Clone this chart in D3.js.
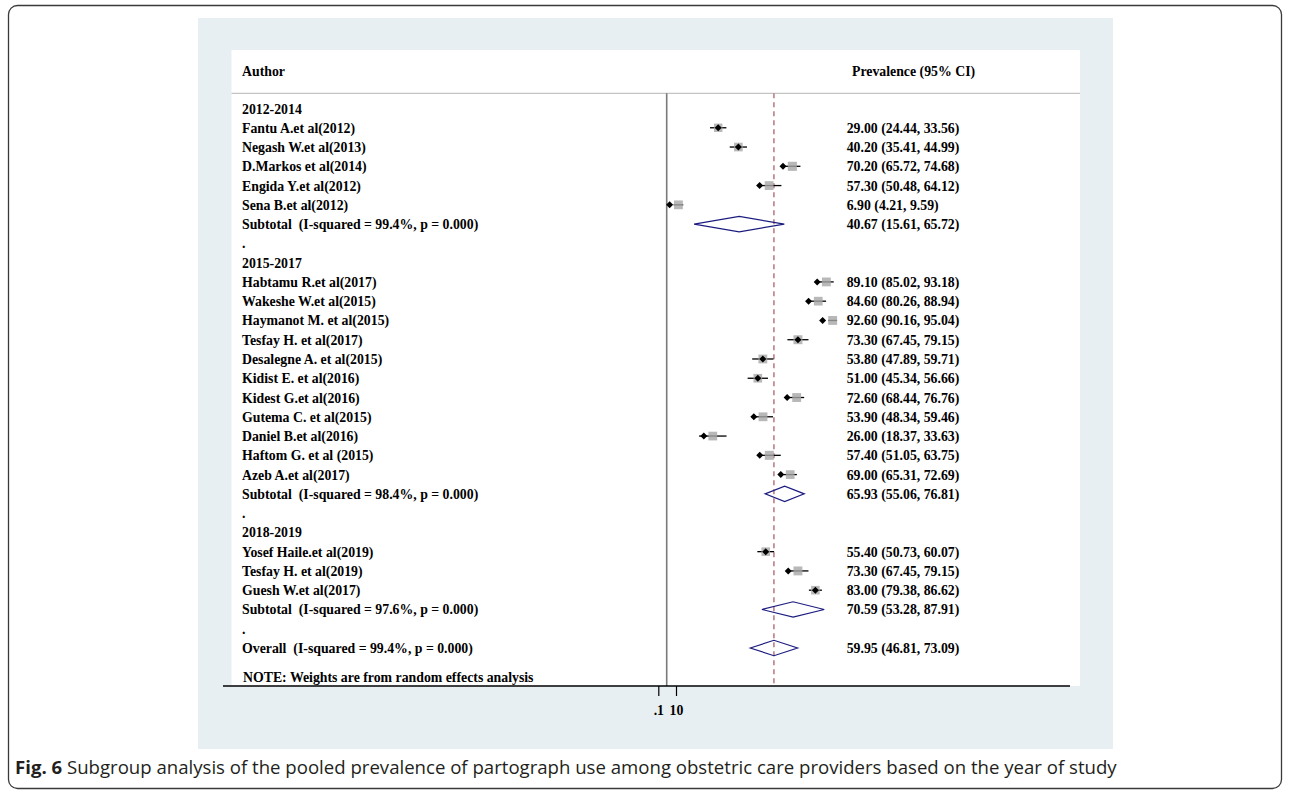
<!DOCTYPE html>
<html><head><meta charset="utf-8">
<script src="https://cdn.jsdelivr.net/npm/d3@7"></script>
<style>
html,body{margin:0;padding:0;background:#fff;}
svg text{white-space:pre;}
</style></head>
<body>
<svg id="chart" width="1290" height="793"></svg>
<script>
// ---------------- data ----------------
const groupNames = ["2012-2014", "2015-2017", "2018-2019"];
const studyAuthors = [
  "Fantu A.et al(2012)", "Negash W.et al(2013)", "D.Markos et al(2014)", "Engida Y.et al(2012)", "Sena B.et al(2012)",
  "Habtamu R.et al(2017)", "Wakeshe W.et al(2015)", "Haymanot M. et al(2015)", "Tesfay H. et al(2017)",
  "Desalegne A. et al(2015)", "Kidist E. et al(2016)", "Kidest G.et al(2016)", "Gutema C. et al(2015)",
  "Daniel B.et al(2016)", "Haftom G. et al (2015)", "Azeb A.et al(2017)",
  "Yosef Haile.et al(2019)", "Tesfay H. et al(2019)", "Guesh W.et al(2017)"
];
const studyGroup = [0,0,0,0,0, 1,1,1,1,1,1,1,1,1,1,1, 2,2,2];
const studyEst  = [29.00, 40.20, 70.20, 57.30, 6.90, 89.10, 84.60, 92.60, 73.30, 53.80, 51.00, 72.60, 53.90, 26.00, 57.40, 69.00, 55.40, 73.30, 83.00];
const studyLow  = [24.44, 35.41, 65.72, 50.48, 4.21, 85.02, 80.26, 90.16, 67.45, 47.89, 45.34, 68.44, 48.34, 18.37, 51.05, 65.31, 50.73, 67.45, 79.38];
const studyHigh = [33.56, 44.99, 74.68, 64.12, 9.59, 93.18, 88.94, 95.04, 79.15, 59.71, 56.66, 76.76, 59.46, 33.63, 63.75, 72.69, 60.07, 79.15, 86.62];
// position of the black point marker as drawn in the figure
const studyDot  = [29.00, 40.20, 65.0, 52.0, 2.0, 84.0, 79.2, 87.0, 73.30, 53.80, 51.00, 67.3, 48.8, 21.0, 52.1, 63.8, 55.40, 67.9, 83.00];
// relative weights (box sizes)
const studyWeight = [5.0, 5.3, 5.9, 5.5, 5.5, 5.5, 5.4, 5.6, 5.7, 5.5, 5.3, 5.6, 5.5, 5.4, 5.8, 5.4, 5.2, 5.6, 5.2];

const subtotalLabels = [
  "Subtotal  (I-squared = 99.4%, p = 0.000)",
  "Subtotal  (I-squared = 98.4%, p = 0.000)",
  "Subtotal  (I-squared = 97.6%, p = 0.000)"
];
const subtotalEst  = [40.67, 65.93, 70.59];
const subtotalLow  = [15.61, 55.06, 53.28];
const subtotalHigh = [65.72, 76.81, 87.91];

const overallLabel = "Overall  (I-squared = 99.4%, p = 0.000)";
const overallEst = [59.95], overallLow = [46.81], overallHigh = [73.09];

const axisTickValues = [0.1, 10];
const axisTickLabels = [".1", "10"];

const headerLeft = "Author";
const headerRight = "Prevalence (95% CI)";
const noteText = "NOTE: Weights are from random effects analysis";
const captionBold = "Fig. 6";
const captionText = " Subgroup analysis of the pooled prevalence of partograph use among obstetric care providers based on the year of study";

// ---------------- build rows ----------------
const rows = [];
groupNames.forEach((g, gi) => {
  rows.push({type: "group", label: g});
  studyAuthors.forEach((a, i) => {
    if (studyGroup[i] === gi) rows.push({type: "study", label: a, est: studyEst[i], lo: studyLow[i], hi: studyHigh[i], dot: studyDot[i], w: studyWeight[i]});
  });
  rows.push({type: "summary", label: subtotalLabels[gi], est: subtotalEst[gi], lo: subtotalLow[gi], hi: subtotalHigh[gi]});
  rows.push({type: "blank", label: "."});
});
rows.push({type: "summary", label: overallLabel, est: overallEst[0], lo: overallLow[0], hi: overallHigh[0]});
rows.forEach((r, i) => r.i = i);

const fmt = d3.format(".2f");

// ---------------- drawing ----------------
const svg = d3.select("#chart");
const FONT = "'Liberation Serif','Times New Roman',serif";
const FS = 13.8;

// outer frame
svg.append("rect").attr("x", 8.5).attr("y", 5.5).attr("width", 1273).attr("height", 783)
  .attr("rx", 9).attr("fill", "#fff").attr("stroke", "#3a3a3a").attr("stroke-width", 1.3);

// light panel
svg.append("rect").attr("x", 198).attr("y", 18).attr("width", 915).attr("height", 731).attr("fill", "#e8eff2");
// white plot region
svg.append("rect").attr("x", 231.5).attr("y", 50).attr("width", 848.5).attr("height", 636).attr("fill", "#fff");

const x = d3.scaleLinear().domain([0, 100]).range([666, 846]);
const y = d3.scaleLinear().domain([0, rows.length - 1]).range([108.5, 648]);
const boxSize = d3.scaleSqrt().domain([0, 5.5]).range([0, 8.8]);

// header
const textG = svg.append("g").attr("font-family", FONT).attr("font-weight", "bold").attr("font-size", FS).attr("fill", "#000");
textG.append("text").attr("x", 242).attr("y", 76).text(headerLeft);
textG.append("text").attr("x", 852).attr("y", 76).text(headerRight);
svg.append("line").attr("x1", 231.5).attr("x2", 1080).attr("y1", 93.3).attr("y2", 93.3).attr("stroke", "#c4c4c4").attr("stroke-width", 1.3);

// vertical reference (zero) line
svg.append("line").attr("x1", x(0) + 0.7).attr("x2", x(0) + 0.7).attr("y1", 93.3).attr("y2", 686)
  .attr("stroke", "#7a7a7a").attr("stroke-width", 1.6);
// overall estimate dashed line
svg.append("line").attr("x1", x(overallEst[0])).attr("x2", x(overallEst[0])).attr("y1", 93.3).attr("y2", 686)
  .attr("stroke", "#c0868c").attr("stroke-width", 1.7).attr("stroke-dasharray", "5,4");

// row labels
textG.selectAll("text.lab").data(rows).join("text").attr("class", "lab")
  .attr("x", 242).attr("y", d => y(d.i) + 5).text(d => d.label);
// right column values
textG.selectAll("text.val").data(rows.filter(r => r.type === "study" || r.type === "summary")).join("text").attr("class", "val")
  .attr("x", 846.7).attr("y", d => y(d.i) + 5).text(d => `${fmt(d.est)} (${fmt(d.lo)}, ${fmt(d.hi)})`);
textG.append("text").attr("x", 243).attr("y", 681.7).text(noteText);

// study marks
const studies = rows.filter(r => r.type === "study");
const sg = svg.append("g");
sg.selectAll("line.ci").data(studies).join("line").attr("class", "ci")
  .attr("x1", d => x(d.lo)).attr("x2", d => x(d.hi)).attr("y1", d => y(d.i)).attr("y2", d => y(d.i))
  .attr("stroke", "#000").attr("stroke-width", 1.3);
sg.selectAll("rect.box").data(studies).join("rect").attr("class", "box")
  .attr("x", d => x(d.est) - boxSize(d.w) / 2).attr("y", d => y(d.i) - boxSize(d.w) / 2)
  .attr("width", d => boxSize(d.w)).attr("height", d => boxSize(d.w))
  .attr("fill", "#a6a6a6").attr("fill-opacity", 0.8);
const dsz = 3.5;
sg.selectAll("path.dot").data(studies).join("path").attr("class", "dot")
  .attr("d", d => { const cx = x(d.dot), cy = y(d.i); return `M${cx - dsz},${cy}L${cx},${cy - dsz}L${cx + dsz},${cy}L${cx},${cy + dsz}Z`; })
  .attr("fill", "#000");

// summary diamonds
const sums = rows.filter(r => r.type === "summary");
svg.append("g").selectAll("path").data(sums).join("path")
  .attr("d", d => { const cy = y(d.i), h = 7.7; return `M${x(d.lo)},${cy}L${x(d.est)},${cy - h}L${x(d.hi)},${cy}L${x(d.est)},${cy + h}Z`; })
  .attr("fill", "none").attr("stroke", "#1c1c80").attr("stroke-width", 1.2);

// x axis
const xa = d3.scaleLog().domain([0.1, 10]).range([658.3, 676]);
svg.append("line").attr("x1", 223).attr("x2", 1070).attr("y1", 686).attr("y2", 686).attr("stroke", "#000").attr("stroke-width", 1.3);
const ax = svg.append("g").attr("transform", "translate(0,686)")
  .call(d3.axisBottom(xa).tickValues(axisTickValues).tickSize(10).tickPadding(9)
    .tickFormat((d, i) => axisTickLabels[i]));
ax.select(".domain").remove();
ax.selectAll(".tick line").attr("stroke", "#000").attr("stroke-width", 1.2);
ax.selectAll(".tick text").attr("font-family", FONT).attr("font-weight", "bold").attr("font-size", FS).attr("fill", "#000");

// caption
const cap = svg.append("text").attr("x", 15).attr("y", 774).attr("font-family", "'Open Sans','Noto Sans',sans-serif")
  .attr("font-size", 18.6).attr("fill", "#231f20");
cap.append("tspan").attr("font-weight", "bold").text(captionBold);
cap.append("tspan").text(captionText);
</script>
</body></html>
